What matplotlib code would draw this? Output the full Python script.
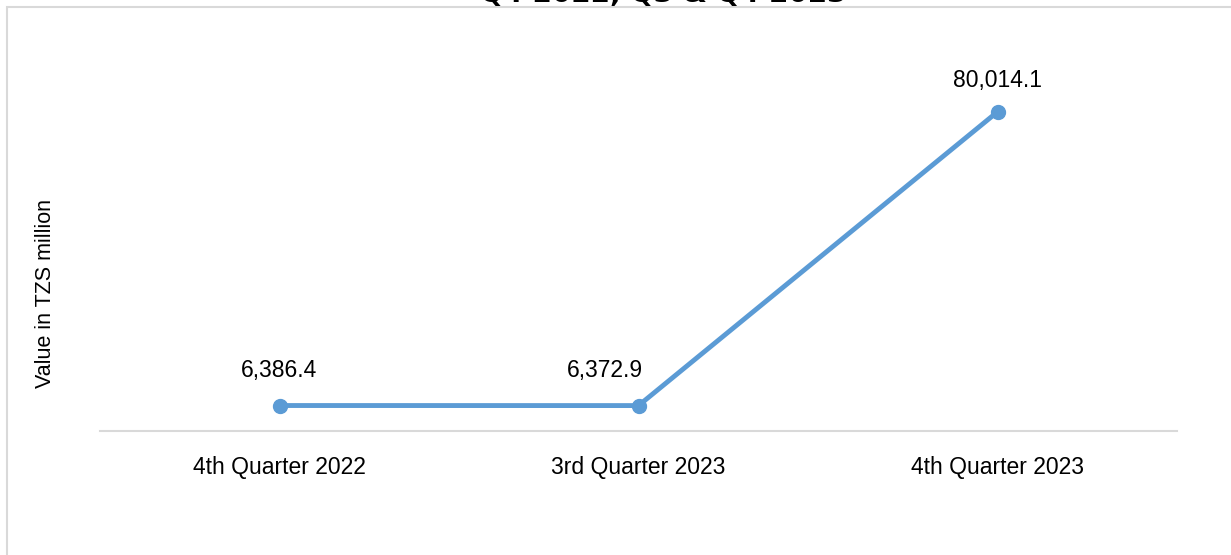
import matplotlib.pyplot as plt
from matplotlib.patches import Rectangle

plt.rcParams['font.family'] = ['Liberation Sans Narrow', 'Liberation Sans', 'DejaVu Sans']

quarters = ["4th Quarter 2022", "3rd Quarter 2023", "4th Quarter 2023"]
values = [6386.4, 6372.9, 80014.1]
labels = ["6,386.4", "6,372.9", "80,014.1"]

fig = plt.figure(figsize=(12.31, 5.55), dpi=100)
ax = fig.add_axes([100 / 1231, 124 / 555, 1077 / 1231, 359 / 555])

# outer chart border (cut off at the bottom and right)
fig.patches.append(Rectangle((7 / 1231, -0.1), 1.2, 1.1 - 7 / 555, transform=fig.transFigure,
                             fill=False, edgecolor='#d9d9d9', linewidth=1.5))

x = list(range(len(quarters)))
ax.plot(x, values, color='#5b9bd5', linewidth=3.5, marker='o', markersize=10, solid_capstyle='round')

offsets = [(0, 17), (-24, 17), (0, 14)]
for xi, v, lab, off in zip(x, values, labels, offsets):
    ax.annotate(lab, (xi, v), xytext=off, textcoords='offset points',
                ha='center', va='bottom', fontsize=16.5)

ax.set_xlim(-0.5, 2.5)
ax.set_ylim(0, 90000)
ax.set_xticks(x)
ax.set_xticklabels(quarters, fontsize=16.5)
ax.tick_params(axis='x', length=0, pad=18)
ax.set_yticks([])
for s in ['top', 'right', 'left']:
    ax.spines[s].set_visible(False)
ax.spines['bottom'].set_color('#d9d9d9')
ax.spines['bottom'].set_linewidth(1.5)

fig.text(46 / 1231, 262 / 555, "Value in TZS million", rotation=90, ha='center', va='center', fontsize=15.5)

# title, mostly cut off at the top edge
fig.text(663 / 1231, 1 - 2 / 555, "Q4 2022, Q3 & Q4 2023", ha='center', va='baseline',
         fontsize=20, fontweight='bold', family='DejaVu Sans')

fig.savefig("out.png", dpi=100)
